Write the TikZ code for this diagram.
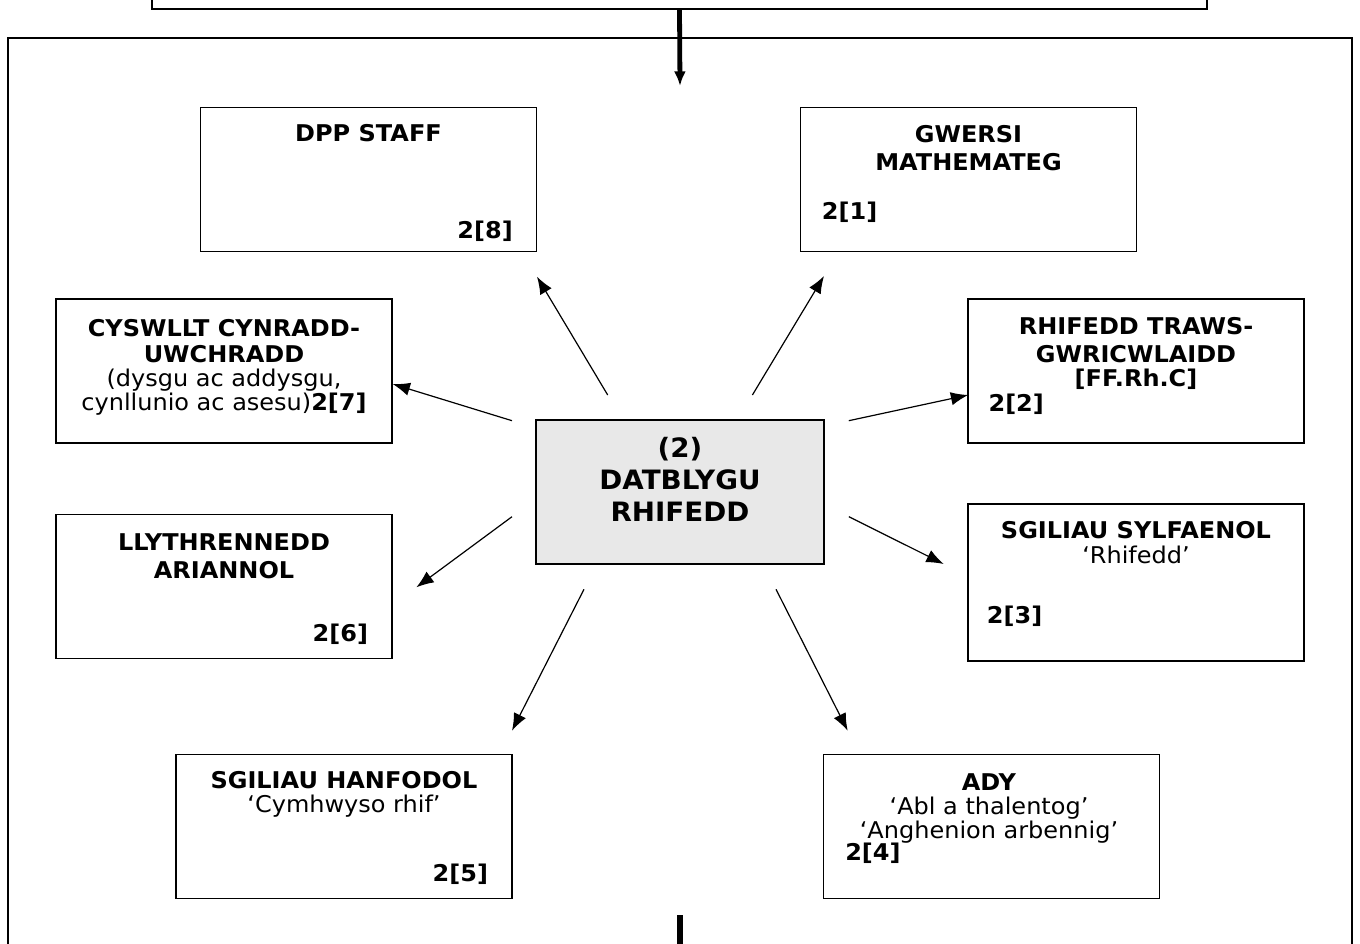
\documentclass[tikz,border=0pt]{standalone}
\usepackage{fontspec}
\setmainfont{DejaVu Sans}[FakeStretch=1.04]
\usepackage{xcolor}
\definecolor{hubgrey}{RGB}{232,232,232}
\usepackage{tikz}
\usetikzlibrary{positioning}
\usetikzlibrary{arrows.meta}

\begin{document}
\begin{tikzpicture}[x=0.75pt,y=-0.75pt,
  box/.style={draw,line width=1.3pt,rectangle,inner sep=0,minimum width=252pt,minimum height=108pt},
  txt/.style={inner sep=0,align=center,anchor=base,font=\fontsize{17.3}{18}\selectfont},
  spoke/.style={-{Latex[length=13pt,width=10pt]},line width=0.9pt}]
\useasboundingbox (0,0) rectangle (1360,944);
\clip (0,0) rectangle (1360,944);

%frame and box above
\node (top) at (679.5,-16) [draw,line width=1.6pt,rectangle,minimum width=791pt,minimum height=37.5pt] {};
\node (frame) at (680,520) [draw,line width=1.6pt,rectangle,minimum width=1008pt,minimum height=723pt] {};
\coordinate (into) at (680,86);
\coordinate (out) at (680,915);
\draw [-{Latex[length=11pt,width=9pt]},line width=3.6pt] (top.south) -- (into);
\draw [line width=4pt] (out) -- (frame.south);

%central box (text nodes sit on their last line)
\node (hub) at (680,492) [box,fill=hubgrey,minimum width=216pt] {};
\node (hubt) at (680,521.7) [txt,font=\fontsize{20}{24}\selectfont\bfseries] {(2)\\DATBLYGU\\RHIFEDD};

%outer boxes
\node (dpp) at (368.5,179.5) [box] {};
\node (gwersi) at (968.5,179.5) [box] {};
\node (cyswllt) at (224,371) [box] {};
\node (traws) at (1136,371) [box] {};
\node (llyth) at (224,586.5) [box] {};
\node (sylf) at (1136,582.5) [box,minimum height=117.75pt] {};
\node (hanf) at (344,826.5) [box] {};
\node (ady) at (991.5,826.5) [box] {};

%box texts
\node (dppt) at (368.5,141.5) [txt] {\textbf{DPP STAFF}};
\node (dppn) at (513,239) [txt,anchor=base east] {\textbf{2[8]}};
\node (gwersit) at (968.5,171) [txt] {\textbf{GWERSI}\\[3pt]\textbf{MATHEMATEG}};
\node (gwersin) at (821.7,220) [txt,anchor=base west] {\textbf{2[1]}};
\node (cyswlltt) at (224,410.7) [txt] {\textbf{CYSWLLT CYNRADD-}\\[2pt]\textbf{UWCHRADD}\\(dysgu ac addysgu,\\cynllunio ac asesu)\textbf{2[7]}};
\node (trawst) at (1136,386.7) [txt] {\textbf{RHIFEDD TRAWS-}\\[3pt]\textbf{GWRICWLAIDD}\\{\textbf{[FF.Rh.C]}}};
\node (trawsn) at (988.3,411.7) [txt,anchor=base west] {\textbf{2[2]}};
\node (lltht) at (224,578.3) [txt] {\textbf{LLYTHRENNEDD}\\[3pt]\textbf{ARIANNOL}};
\node (llythn) at (368.3,641.7) [txt,anchor=base east] {\textbf{2[6]}};
\node (sylft) at (1136,563) [txt] {\textbf{SGILIAU SYLFAENOL}\\‘Rhifedd’};
\node (sylfn) at (986.7,623) [txt,anchor=base west] {\textbf{2[3]}};
\node (hanft) at (344,812) [txt] {\textbf{SGILIAU HANFODOL}\\‘Cymhwyso rhif’};
\node (hanfn) at (488.3,881.7) [txt,anchor=base east] {\textbf{2[5]}};
\node (adyt) at (989,838.3) [txt] {\textbf{ADY}\\‘Abl a thalentog’\\‘Anghenion arbennig’};
\node (adyn) at (845,860) [txt,anchor=base west] {\textbf{2[4]}};

%spokes from the centre
\coordinate (s1) at (607.7,395);   \coordinate (e1) at (537,276.7);
\coordinate (s2) at (752.4,395);   \coordinate (e2) at (824,276);
\coordinate (s3) at (512,420.7);   \coordinate (e3) at (392.6,384);
\coordinate (s4) at (848.8,420.7); \coordinate (e4) at (968.2,395);
\coordinate (s5) at (512,516.7);   \coordinate (e5) at (416.4,587.3);
\coordinate (s6) at (848.8,516.7); \coordinate (e6) at (943.7,564);
\coordinate (s7) at (584,589.3);   \coordinate (e7) at (512,730.7);
\coordinate (s8) at (776,589.3);   \coordinate (e8) at (847.7,730.7);
\foreach \i in {1,...,8}{
    \draw [spoke] (s\i) -- (e\i);
}

\end{tikzpicture}
\end{document}
